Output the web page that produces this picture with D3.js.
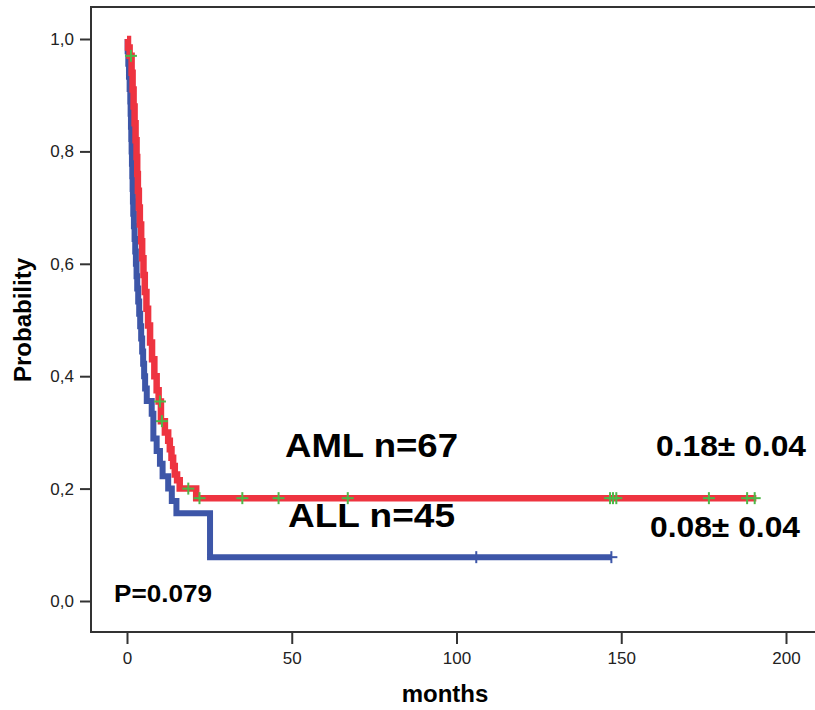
<!DOCTYPE html>
<html>
<head>
<meta charset="utf-8">
<script src="https://cdn.jsdelivr.net/npm/d3@7"></script>
<style>
  body { margin: 0; background: #fff; }
  svg { display: block; font-family: "Liberation Sans", Arial, sans-serif; }
</style>
</head>
<body>
<svg id="chart" width="815" height="710"></svg>
<script>
// Kaplan-Meier steps (months, probability)
var amlTimes = [0, 0.3, 0.8, 1.4, 1.7, 2.0, 2.3, 2.6, 2.9, 3.1, 3.3, 3.6, 3.9, 4.3, 4.6, 5.0, 5.4, 5.9, 6.4, 7.0, 7.6, 8.3, 9.0, 9.6, 10.3, 11.5, 12.5, 13.0, 13.5, 14.0, 14.5, 15.2, 16.0, 21.0, 191];
var amlSurv  = [1.0, 0.985, 0.970, 0.94, 0.91, 0.88, 0.85, 0.82, 0.79, 0.76, 0.73, 0.70, 0.67, 0.64, 0.61, 0.58, 0.55, 0.52, 0.49, 0.46, 0.43, 0.40, 0.375, 0.355, 0.32, 0.30, 0.285, 0.27, 0.255, 0.24, 0.225, 0.215, 0.20, 0.183, 0.183];
var amlCensor = [1.2, 10.0, 10.6, 18.6, 22, 35, 46, 67, 146.6, 147.5, 148.5, 176.6, 188.2, 190.5];

var allTimes = [0, 0.2, 0.4, 0.6, 0.8, 1.0, 1.1, 1.2, 1.3, 1.4, 1.5, 1.6, 1.7, 1.8, 1.9, 2.1, 2.3, 2.5, 2.7, 2.9, 3.1, 3.4, 3.7, 4.0, 4.3, 4.6, 4.9, 5.2, 5.5, 6.0, 7.5, 8.0, 9.0, 10.0, 10.8, 12.5, 13.6, 15.0, 25.2, 147];
var allSurv  = [1.0, 0.978, 0.956, 0.933, 0.911, 0.889, 0.867, 0.844, 0.822, 0.800, 0.778, 0.756, 0.733, 0.711, 0.689, 0.667, 0.644, 0.622, 0.600, 0.578, 0.556, 0.533, 0.511, 0.489, 0.467, 0.444, 0.422, 0.400, 0.378, 0.356, 0.333, 0.289, 0.267, 0.244, 0.222, 0.200, 0.178, 0.156, 0.078, 0.078];
var allCensor = [106, 147];

var xTicks = [0, 50, 100, 150, 200];
var yTicks = [0, 0.2, 0.4, 0.6, 0.8, 1.0];

var svg = d3.select("#chart"),
    frame = {left: 91, top: 7, right: 815, bottom: 632};

var x = d3.scaleLinear().domain([0, 200]).range([127, 786]);
var y = d3.scaleLinear().domain([0, 1]).range([601, 39]);

var fmtY = function(d) { return d3.format(".1f")(d).replace(".", ","); };

// frame
svg.append("path")
    .attr("d", "M" + frame.right + "," + frame.top + "H" + frame.left + "V" + frame.bottom + "H" + frame.right)
    .attr("fill", "none")
    .attr("stroke", "#333")
    .attr("stroke-width", 2);

var gx = svg.append("g")
    .attr("transform", "translate(0," + frame.bottom + ")")
    .call(d3.axisBottom(x).tickValues(xTicks).tickSize(12).tickPadding(8));
gx.select(".domain").remove();

var gy = svg.append("g")
    .attr("transform", "translate(" + frame.left + ",0)")
    .call(d3.axisLeft(y).tickValues(yTicks).tickFormat(fmtY).tickSize(11).tickPadding(6));
gy.select(".domain").remove();

svg.selectAll(".tick line").attr("stroke", "#333").attr("stroke-width", 2);
svg.selectAll(".tick text")
    .attr("font-size", 17)
    .attr("fill", "#222")
    .attr("font-family", "Liberation Sans, Arial, sans-serif");

svg.append("text")
    .attr("transform", "translate(31,320) rotate(-90)")
    .attr("text-anchor", "middle")
    .attr("font-size", 24)
    .attr("font-weight", "bold")
    .text("Probability");

svg.append("text")
    .attr("x", 445).attr("y", 702)
    .attr("text-anchor", "middle")
    .attr("font-size", 24)
    .attr("font-weight", "bold")
    .text("months");

function stepValue(times, surv, t) {
  var i = d3.bisectRight(times, t) - 1;
  return surv[Math.max(0, i)];
}

var line = d3.line()
    .x(function(d) { return x(d[0]); })
    .y(function(d) { return y(d[1]); })
    .curve(d3.curveStepAfter);

function drawCurve(times, surv, censor, color, width, markColor) {
  svg.append("path")
      .datum(d3.zip(times, surv))
      .attr("fill", "none")
      .attr("stroke", color)
      .attr("stroke-width", width)
      .attr("stroke-linejoin", "miter")
      .attr("d", line);

  var m = svg.append("g").selectAll("g")
    .data(censor)
    .enter().append("g")
      .attr("transform", function(t) { return "translate(" + x(t) + "," + y(stepValue(times, surv, t)) + ")"; });
  m.append("line").attr("x1", -6).attr("x2", 6)
      .attr("stroke", markColor).attr("stroke-width", 2);
  m.append("line").attr("y1", -6).attr("y2", 6)
      .attr("stroke", markColor).attr("stroke-width", 2);
}

drawCurve(allTimes, allSurv, allCensor, "#3d56a8", 6, "#3d56a8");
drawCurve(amlTimes, amlSurv, amlCensor, "#ee3440", 6.5, "#4db848");

// annotations
function label(txt, px, py, size, len) {
  svg.append("text")
      .attr("x", px).attr("y", py)
      .attr("font-size", size)
      .attr("font-weight", "bold")
      .attr("font-family", "Liberation Sans, Arial, sans-serif")
      .attr("textLength", len)
      .attr("lengthAdjust", "spacingAndGlyphs")
      .text(txt);
}
label("AML n=67", 285, 457, 34, 173);
label("ALL n=45", 288, 527, 34, 167);
label("0.18\u00b1 0.04", 656, 456, 29, 150);
label("0.08\u00b1 0.04", 650, 537, 29, 150);
label("P=0.079", 114, 602, 24, 98);
</script>
</body>
</html>
